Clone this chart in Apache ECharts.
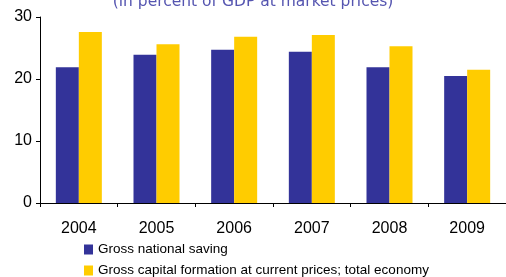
<!DOCTYPE html>
<html lang="en">
<head>
<meta charset="UTF-8">
<title>Saving and investment</title>
<script src="https://cdn.jsdelivr.net/npm/echarts@6/dist/echarts.min.js"></script>
<style>
  html, body { margin: 0; padding: 0; background: #fff; }
  #chart { width: 506px; height: 277px; }
</style>
</head>
<body>
<div id="chart"></div>
<script>
// data
var years = ['2004', '2005', '2006', '2007', '2008', '2009'];
var saving = [21.9, 23.9, 24.7, 24.4, 21.9, 20.5];
var capital = [27.6, 25.6, 26.8, 27.1, 25.3, 21.5];
var seriesNames = ['Gross national saving', 'Gross capital formation at current prices; total economy'];
var subtitle = '(in percent of GDP at market prices)';

var chart = echarts.init(document.getElementById('chart'));

var option = {
  animation: false,
  graphic: [{
    type: 'text',
    left: 'center',
    top: -6,
    style: {
      text: subtitle,
      fill: '#5555b0',
      font: '15.5px "DejaVu Sans"'
    }
  }],
  legend: {
    orient: 'vertical',
    left: 79,
    top: 237,
    height: 60,
    itemWidth: 9,
    itemHeight: 10,
    itemGap: 6,
    icon: 'rect',
    textStyle: { fontFamily: 'Liberation Sans', fontSize: 13.5, color: '#000', lineHeight: 15 },
    data: seriesNames
  },
  grid: { left: 40, right: -3, top: 17, bottom: 74 },
  xAxis: {
    type: 'category',
    data: years,
    axisLine: { lineStyle: { color: '#000', width: 1 } },
    axisTick: { show: true, length: 4, lineStyle: { color: '#000' } },
    axisLabel: { fontFamily: 'Liberation Sans', fontSize: 16, color: '#000', margin: 18 }
  },
  yAxis: {
    type: 'value',
    min: 0,
    max: 30,
    interval: 10,
    splitLine: { show: false },
    axisLine: { show: true, lineStyle: { color: '#000', width: 1 } },
    axisTick: { show: true, length: 4, lineStyle: { color: '#000' } },
    axisLabel: { fontFamily: 'Liberation Sans', fontSize: 16, color: '#000', margin: 8 }
  },
  series: [
    {
      name: seriesNames[0],
      type: 'bar',
      data: saving,
      barWidth: 23,
      barGap: '0%',
      itemStyle: { color: '#333399' }
    },
    {
      name: seriesNames[1],
      type: 'bar',
      data: capital,
      barWidth: 23,
      itemStyle: { color: '#ffcc00' }
    }
  ]
};

chart.setOption(option);
</script>
</body>
</html>
